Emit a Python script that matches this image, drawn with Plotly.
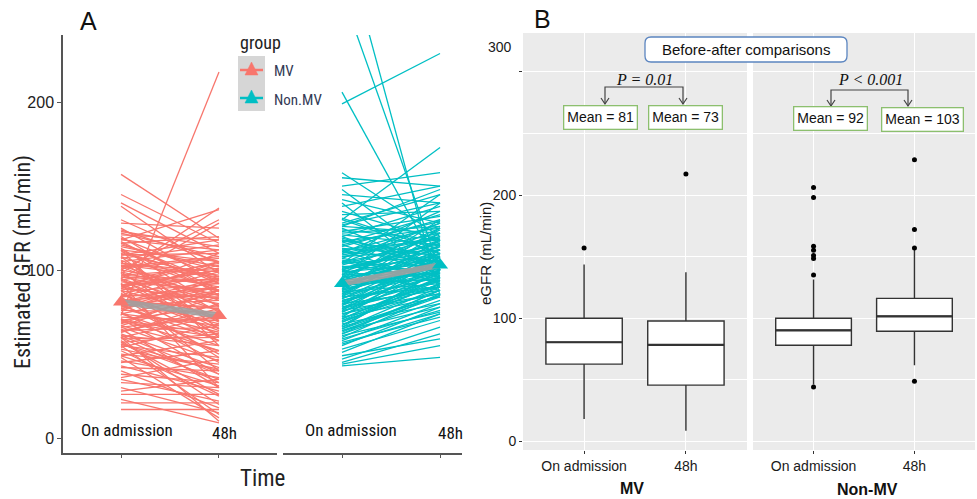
import plotly.graph_objects as go

W, H = 977, 499
def px(x): return x / W
def py(y): return 1 - y / H

# ---------------- DATA ----------------
time_labels = ["On admission", "48h"]
legend_groups = ["MV", "Non.MV"]

mv_before = [157, 145, 140, 138, 130, 128, 125, 122, 120, 118, 115, 113, 112, 110, 108, 107, 105, 104, 103, 102,
             100, 99, 98, 97, 96, 95, 94, 93, 92, 91, 90, 89, 88, 87, 86, 85, 84, 83, 82, 81,
             80, 79, 78, 77, 76, 75, 74, 73, 72, 71, 70, 69, 68, 67, 66, 65, 64, 63, 62, 61,
             60, 58, 57, 56, 55, 54, 52, 50, 49, 48, 46, 45, 43, 42, 40, 38, 36, 35, 33, 30,
             28, 26, 23, 21, 17, 60, 55, 100, 118, 95, 108, 112, 88, 92, 85, 90, 97, 103, 78, 82,
             124, 121, 119, 117, 116, 114, 111, 109, 106, 104, 101, 99, 96, 94, 91, 89, 86, 84, 81, 79,
             76, 74, 71, 69, 66, 64, 61, 59, 57, 53, 123, 116, 109, 102, 95, 88, 81, 74, 67, 60,
             112, 105, 98, 91, 84, 77, 70, 63, 56, 49]
mv_after = [119, 116, 110, 98, 104, 125, 92, 108, 85, 112, 100, 78, 105, 95, 88, 115, 70, 97, 82, 108,
            90, 60, 137, 101, 85, 76, 104, 88, 65, 95, 80, 110, 72, 92, 58, 84, 99, 68, 77, 90,
            50, 82, 94, 63, 75, 45, 86, 218, 70, 38, 79, 60, 88, 52, 72, 30, 66, 80, 42, 55,
            73, 20, 62, 35, 48, 68, 25, 44, 58, 12, 36, 52, 28, 40, 18, 33, 47, 22, 30, 15,
            35, 26, 9, 21, 17, 10, 14, 130, 136, 128, 65, 55, 40, 30, 105, 100, 93, 96, 88, 86,
            105, 118, 96, 88, 120, 102, 94, 110, 75, 99, 107, 85, 92, 70, 100, 83, 64, 90, 78, 58,
            95, 67, 52, 88, 46, 74, 38, 60, 26, 41, 114, 92, 118, 79, 61, 103, 95, 55, 84, 33,
            87, 112, 69, 105, 48, 90, 62, 77, 40, 31]

nonmv_before = [265, 300, 206, 199, 130, 158, 155, 150, 148, 145, 142, 140, 138, 135, 133, 130, 128, 126, 125, 123,
                121, 120, 118, 117, 115, 114, 112, 111, 110, 108, 107, 106, 105, 104, 103, 102, 101, 100, 99, 98,
                97, 96, 95, 94, 93, 92, 91, 90, 89, 88, 87, 86, 85, 84, 83, 82, 81, 80, 79, 78,
                77, 76, 75, 74, 73, 72, 71, 70, 69, 68, 67, 66, 65, 64, 63, 62, 61, 60, 58, 57,
                55, 53, 51, 49, 47, 45, 43, 44, 110, 97, 104, 88, 112, 120, 100, 93, 85, 79, 72, 66,
                131, 127, 124, 122, 119, 116, 113, 109, 107, 104, 102, 99, 97, 95, 93, 90, 88, 86, 84, 82,
                80, 78, 76, 74, 71, 69, 67, 64, 62, 59, 126, 118, 111, 105, 100, 96, 91, 87, 83, 77,
                115, 108, 101, 94, 89, 81, 75, 70, 65, 56]
nonmv_after = [100, 85, 100, 229, 173, 120, 150, 158, 105, 140, 128, 95, 150, 118, 135, 110, 145, 122, 100, 132,
               115, 138, 108, 125, 98, 130, 118, 105, 122, 112, 128, 96, 115, 108, 120, 100, 112, 125, 104, 110,
               118, 102, 108, 98, 114, 104, 95, 110, 100, 106, 92, 115, 98, 90, 104, 96, 108, 88, 100, 94,
               110, 86, 98, 90, 102, 84, 95, 88, 92, 80, 96, 85, 90, 78, 88, 82, 75, 86, 80, 72,
               78, 70, 74, 59, 66, 62, 48, 55, 135, 140, 145, 122, 92, 100, 88, 130, 118, 112, 108, 100,
               112, 140, 118, 126, 104, 133, 109, 120, 97, 128, 106, 117, 101, 124, 94, 112, 102, 99, 118, 93,
               104, 90, 108, 86, 96, 92, 100, 84, 88, 76, 148, 101, 126, 93, 116, 122, 99, 105, 110, 91,
               129, 119, 114, 107, 125, 97, 103, 94, 85, 74]

mean_mv = [81, 73]
mean_nonmv = [92, 103]

# Panel B box statistics
facet_labels = ["MV", "Non-MV"]
mv_q1 = [62.5, 45.4]
mv_median = [80.3, 78.1]
mv_q3 = [99.8, 97.6]
mv_lower = [17.8, 8.4]
mv_upper = [143.5, 137.3]
mv_outliers = [[157], [217]]
nonmv_q1 = [77.9, 89.2]
nonmv_median = [90.0, 101.4]
nonmv_q3 = [99.8, 116.0]
nonmv_lower = [46.0, 61.6]
nonmv_upper = [131.4, 155.7]
nonmv_outliers = [[206, 198, 158.4, 155, 150.8, 148.4, 135, 44], [228.7, 172, 157, 48.6]]
mv_means = [81, 73]
nonmv_means = [92, 103]
p_labels = ["P = 0.01", "P < 0.001"]

# ---------------- STYLE ----------------
SALMON = "#F8766D"
TEAL = "#00BFC4"
FONT_A = "Liberation Sans Narrow, Arial Narrow, Roboto Condensed, Liberation Sans, sans-serif"
FONT_B = "Liberation Sans, Arial, sans-serif"
BOXLINE = "#333333"

fig = go.Figure()

def spaghetti(before, after):
    xs, ys = [], []
    for b, a in zip(before, after):
        xs += [0, 1, None]
        ys += [b, a, None]
    return xs, ys

# Panel A
for before, after, color, xa, means in [(mv_before, mv_after, SALMON, "x", mean_mv),
                                        (nonmv_before, nonmv_after, TEAL, "x2", mean_nonmv)]:
    xs, ys = spaghetti(before, after)
    fig.add_trace(go.Scatter(x=xs, y=ys, mode="lines", line=dict(color=color, width=1.3),
                             xaxis=xa, yaxis="y", showlegend=False, hoverinfo="skip"))
    fig.add_trace(go.Scatter(x=[0, 1], y=means, mode="lines", line=dict(color="rgba(160,160,160,0.9)", width=6),
                             xaxis=xa, yaxis="y", showlegend=False))
    fig.add_trace(go.Scatter(x=[0, 1], y=means, mode="markers",
                             marker=dict(symbol="triangle-up", size=14, color=color),
                             xaxis=xa, yaxis="y", showlegend=False))

# Panel B
for xa, q1, med, q3, lo, hi, outs in [("x3", mv_q1, mv_median, mv_q3, mv_lower, mv_upper, mv_outliers),
                                     ("x4", nonmv_q1, nonmv_median, nonmv_q3, nonmv_lower, nonmv_upper, nonmv_outliers)]:
    pos = list(range(len(time_labels)))
    fig.add_trace(go.Box(x=pos, q1=q1, median=med, q3=q3, lowerfence=lo, upperfence=hi,
                         width=0.75, whiskerwidth=0, fillcolor="white", boxpoints=False,
                         line=dict(color=BOXLINE, width=1.4), xaxis=xa, yaxis="y2", showlegend=False))
    mx, my = [], []
    for i, m in zip(pos, med):
        mx += [i - 0.375, i + 0.375, None]
        my += [m, m, None]
    fig.add_trace(go.Scatter(x=mx, y=my, mode="lines", line=dict(color=BOXLINE, width=2.2),
                             xaxis=xa, yaxis="y2", showlegend=False))
    ox, oy = [], []
    for i, o in zip(pos, outs):
        ox += [i] * len(o)
        oy += o
    fig.add_trace(go.Scatter(x=ox, y=oy, mode="markers", marker=dict(color="black", size=5),
                             xaxis=xa, yaxis="y2", showlegend=False))

axA = dict(showline=True, linecolor="#555555", linewidth=1.5, ticks="outside", ticklen=3,
           tickcolor="#555555", tickvals=[0, 1], showticklabels=False, showgrid=False, zeroline=False)
axBx = dict(showline=False, ticks="outside", ticklen=3, tickcolor=BOXLINE, tickvals=[0, 1],
            ticktext=time_labels, tickfont=dict(family=FONT_B, size=14, color="#1a1a1a"),
            showgrid=True, gridcolor="white", gridwidth=1.2, zeroline=False, range=[-0.6, 1.6])

fig.update_layout(
    width=W, height=H, margin=dict(l=0, r=0, t=0, b=0),
    paper_bgcolor="white", plot_bgcolor="rgba(0,0,0,0)",
    xaxis=dict(axA, domain=[px(63), px(277)], range=[-0.592, 1.592], anchor="y"),
    xaxis2=dict(axA, domain=[px(283), px(462)], range=[-0.602, 1.224], anchor="y"),
    yaxis=dict(domain=[py(453), py(35)], range=[-8.9, 240], showline=True, linecolor="#555555", linewidth=1.5,
               ticks="outside", ticklen=4, tickcolor="#555555", tickvals=[0, 100, 200],
               tickfont=dict(family=FONT_B, size=16, color="#222222"), showgrid=False, zeroline=False,
               anchor="x"),
    xaxis3=dict(axBx, domain=[px(523), px(747)], anchor="y2"),
    xaxis4=dict(axBx, domain=[px(753), px(975)], anchor="y2"),
    yaxis2=dict(domain=[py(450), py(33)], range=[-7.3, 331.7], anchor="x3",
                tickvals=[0, 100, 200, 300], ticktext=["0", "100", "200", ""],
                ticks="outside", ticklen=3, tickcolor=BOXLINE,
                tickfont=dict(family=FONT_B, size=14, color="#1a1a1a"),
                showgrid=True, gridcolor="white", gridwidth=1.2, zeroline=False,
                minor=dict(tickvals=[50, 150, 250], showgrid=True, gridcolor="white", gridwidth=0.6, ticks="")),
)

shapes = []
for xa in ["x3", "x4"]:
    shapes.append(dict(type="rect", xref=f"{xa} domain", yref="y2 domain", x0=0, x1=1, y0=0, y1=1,
                       fillcolor="#EBEBEB", line=dict(width=0), layer="below"))

def path(points, close=False):
    s = "M " + " L ".join(f"{px(x):.5f},{py(y):.5f}" for x, y in points)
    return s + (" Z" if close else "")

def rrect(x0, y0, x1, y1, r):
    return (f"M {px(x0+r):.5f},{py(y0):.5f} L {px(x1-r):.5f},{py(y0):.5f} "
            f"Q {px(x1):.5f},{py(y0):.5f} {px(x1):.5f},{py(y0+r):.5f} "
            f"L {px(x1):.5f},{py(y1-r):.5f} Q {px(x1):.5f},{py(y1):.5f} {px(x1-r):.5f},{py(y1):.5f} "
            f"L {px(x0+r):.5f},{py(y1):.5f} Q {px(x0):.5f},{py(y1):.5f} {px(x0):.5f},{py(y1-r):.5f} "
            f"L {px(x0):.5f},{py(y0+r):.5f} Q {px(x0):.5f},{py(y0):.5f} {px(x0+r):.5f},{py(y0):.5f} Z")

# Legend (panel A)
shapes.append(dict(type="rect", xref="paper", yref="paper", x0=px(238), x1=px(265), y0=py(111), y1=py(56),
                   fillcolor="#D6D6D6", line=dict(width=0)))
for yc, col in [(70, SALMON), (98, TEAL)]:
    shapes.append(dict(type="line", xref="paper", yref="paper", x0=px(240), x1=px(263), y0=py(yc), y1=py(yc),
                       line=dict(color=col, width=2.5)))
    shapes.append(dict(type="path", xref="paper", yref="paper",
                       path=path([(245, yc + 5), (251.5, yc - 8), (258, yc + 5)], close=True),
                       fillcolor=col, line=dict(color=col, width=0.5)))

shapes.append(dict(type="path", xref="paper", yref="paper", path=rrect(645, 37, 847, 62, 6),
                   fillcolor="white", line=dict(color="#5B85C0", width=1.3)))

for xl, xr, yb, yt in [(605, 683, 87, 104), (831, 908, 90, 106)]:
    shapes.append(dict(type="path", xref="paper", yref="paper",
                       path=path([(xl, yt), (xl, yb), (xr, yb), (xr, yt)]),
                       line=dict(color="#444444", width=1.2)))
    for xa_ in (xl, xr):
        shapes.append(dict(type="path", xref="paper", yref="paper",
                           path=path([(xa_ - 4, yt - 6), (xa_, yt), (xa_ + 4, yt - 6)]),
                           line=dict(color="#444444", width=1.2)))

annotations = []
def ann(text, x, y, size, family, color="#1a1a1a", xanchor="center", **kw):
    annotations.append(dict(text=text, x=px(x), y=py(y), xref="paper", yref="paper", showarrow=False,
                            xanchor=xanchor, yanchor="middle", font=dict(family=family, size=size, color=color), **kw))

ann("A", 88, 21, 25, FONT_B, "#111111")
ann("Estimated GFR (mL/min)", 23, 262, 22, FONT_A, "#222222", textangle=-90)
ann("Time", 262, 478, 23, FONT_A, "#222222")
ann("group", 238, 43, 18, FONT_A, "#222222", xanchor="left")
ann(legend_groups[0], 272, 71, 15, FONT_A, "#333a55", xanchor="left")
ann(legend_groups[1], 272, 100, 15, FONT_A, "#333a55", xanchor="left")
for xa, shifts in [("x", (6, 6)), ("x2", (9, 10))]:
    for i, lab in enumerate(time_labels):
        annotations.append(dict(text=lab, x=i, y=py(430 + 3 * i), xref=xa, yref="paper", showarrow=False,
                                xshift=shifts[i], yanchor="middle",
                                font=dict(family=FONT_A, size=17, color="#111111")))

ann("B", 542, 19, 25, FONT_B, "#111111")
ann("eGFR (mL/min)", 486, 254, 15, FONT_B, "#1a1a1a", textangle=-90)
ann("300", 514, 47, 14, FONT_B, "#1a1a1a", xanchor="right")
ann("<b>" + facet_labels[0] + "</b>", 632, 488, 16, FONT_B, "#111111")
ann("<b>" + facet_labels[1] + "</b>", 867, 489, 16, FONT_B, "#111111")
ann("Before-after comparisons", 746, 49.5, 15, FONT_B, "#111111")
ann("<i>" + p_labels[0] + "</i>", 644, 79, 16, "Liberation Serif, Times New Roman, serif", "#111111")
ann("<i>" + p_labels[1] + "</i>", 870, 79, 16, "Liberation Serif, Times New Roman, serif", "#111111")
for m, (xc, yc) in zip(mv_means + nonmv_means, [(600, 117), (685.5, 117), (830, 118), (922.5, 119.5)]):
    ann(f"Mean = {m}", xc, yc, 14, FONT_B, "#111111", bgcolor="white", bordercolor="#8CBF6E",
        borderwidth=1.3, borderpad=3)

fig.update_layout(shapes=shapes, annotations=annotations)
fig.write_html("out.html", config={"displayModeBar": False},
               post_script="document.body.style.margin='0';document.body.style.overflow='hidden';")
